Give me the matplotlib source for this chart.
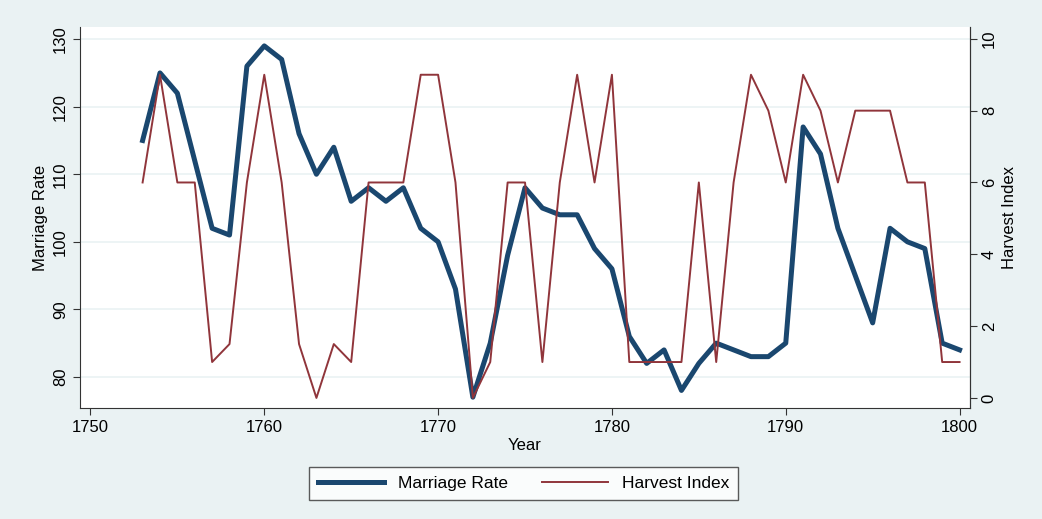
#Marriage rate and harvest index, 1753-1800
import numpy as np
from matplotlib import pyplot as plt

plt.rcParams['font.family'] = ['Liberation Sans', 'DejaVu Sans']

years = np.arange(1753, 1801, 1)
marriage = [115, 125, 122, 112, 102, 101, 126, 129, 127, 116,
            110, 114, 106, 108, 106, 108, 102, 100, 93, 77,
            85, 98, 108, 105, 104, 104, 99, 96, 86, 82,
            84, 78, 82, 85, 84, 83, 83, 85, 117, 113,
            102, 95, 88, 102, 100, 99, 85, 84]
harvest = [6, 9, 6, 6, 1, 1.5, 6, 9, 6, 1.5,
           0, 1.5, 1, 6, 6, 6, 9, 9, 6, 0,
           1, 6, 6, 1, 6, 9, 6, 9, 1, 1,
           1, 1, 6, 1, 6, 9, 8, 6, 9, 8,
           6, 8, 8, 8, 6, 6, 1, 1]

bg = '#eaf2f3'
navy = '#1a476f'
maroon = '#90353b'

fig = plt.figure(figsize=(10.42, 5.19), dpi=100, facecolor=bg)
ax = fig.add_axes([0.0768, 0.2139, 0.8541, 0.7341])
ax.set_facecolor('white')
l1, = ax.plot(years, marriage, color=navy, lw=3.6, label='Marriage Rate', zorder=3)
ax.set_xlim(1749.4, 1800.6)
ax.set_ylim(75.4, 131.8)
ax.set_yticks([80, 90, 100, 110, 120, 130])
ax.set_xticks([1750, 1760, 1770, 1780, 1790, 1800])
ax.grid(True, axis='y', color=bg, lw=1.2)
ax.set_axisbelow(True)
ax.set_xlabel('Year', fontsize=12, labelpad=2)
ax.set_ylabel('Marriage Rate', fontsize=12, labelpad=4)
for lab in ax.get_yticklabels():
    lab.set_rotation(90)
    lab.set_va('center')

ax2 = ax.twinx()
l2, = ax2.plot(years, harvest, color=maroon, lw=1.4, label='Harvest Index', zorder=2)
ax2.set_ylim(-0.28, 10.33)
ax2.set_yticks([0, 2, 4, 6, 8, 10])
ax2.set_ylabel('Harvest Index', fontsize=12, rotation=90, labelpad=4)
for lab in ax2.get_yticklabels():
    lab.set_rotation(90)
    lab.set_va('center')

for a in (ax, ax2):
    a.spines['top'].set_visible(False)
    a.tick_params(labelsize=12, direction='out', length=5, color='#333333')
    for s in ('left', 'right', 'bottom'):
        a.spines[s].set_color('#333333')
ax2.spines['left'].set_visible(False)
ax2.spines['bottom'].set_visible(False)

leg = fig.legend(handles=[l1, l2], loc='center', bbox_to_anchor=(0.5025, 0.068),
                 ncol=2, frameon=True, fancybox=False, fontsize=12.5,
                 handlelength=3.8, columnspacing=2.0, borderpad=0.5)
leg.get_frame().set_edgecolor('#333333')
leg.get_frame().set_linewidth(1.0)

plt.savefig('out.png', dpi=100, facecolor=bg)
